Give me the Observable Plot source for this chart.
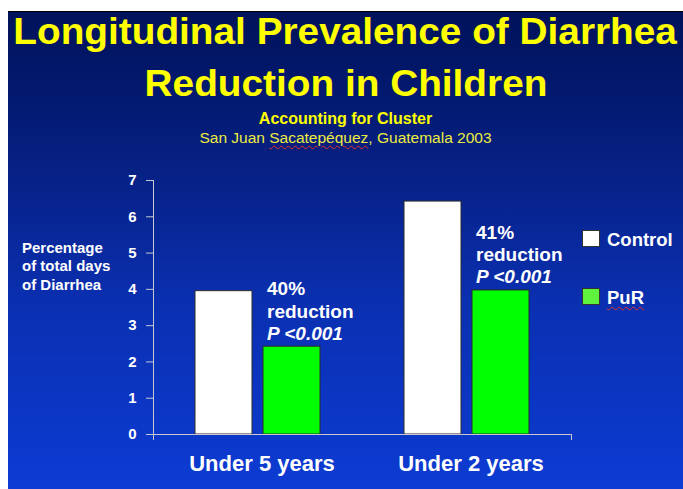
<!DOCTYPE html>
<html>
<head>
<meta charset="utf-8">
<script src="https://cdn.jsdelivr.net/npm/d3@7"></script>
<script src="https://cdn.jsdelivr.net/npm/@observablehq/plot@0.6"></script>
<style>
  html, body { margin: 0; padding: 0; background: #ffffff; }
  #page { position: relative; width: 683px; height: 489px; overflow: hidden; background: #ffffff;
          font-family: "Liberation Sans", Arial, sans-serif; }
  #slide { position: absolute; left: 8px; top: 11px; width: 680px; height: 482px; box-sizing: border-box;
           border-top: 1px solid #000;
           background: linear-gradient(to bottom, #00125a 0%, #061f80 30%, #0a2fb0 60%, #0d3cd4 100%); }
  .t { position: absolute; left: 8px; width: 675px; text-align: center; white-space: nowrap; line-height: 1; }
  .t span { display: inline-block; }
  #t1, #t2 { font-size: 36px; font-weight: bold; color: #ffff00; }
  #t1 span, #t2 span { transform: scaleX(1.077); transform-origin: center; }
  #t1 { top: 14px; }
  #t2 { top: 66px; }
  #s1 { top: 110.5px; font-size: 16px; font-weight: bold; color: #ffff00; }
  #s2 { top: 130px; font-size: 15.5px; color: #ecec40; }
  .squig { text-decoration: underline wavy #e03030; text-decoration-thickness: 1px; text-underline-offset: 2px; }
  #ylab { position: absolute; left: 22px; top: 239px; font-size: 15px; font-weight: bold; color: #ffffff;
          line-height: 18.3px; white-space: nowrap; }
  .lg { position: absolute; left: 582px; height: 17px; }
  .sw { position: absolute; left: 0; top: 0; width: 18px; height: 17px; box-sizing: border-box; border: 1px solid #333; }
  .lt { position: absolute; left: 25px; font-size: 18.5px; font-weight: bold; color: #ffffff; line-height: 1; white-space: nowrap; }
  #chart { position: absolute; left: 0; top: 160px; }
</style>
</head>
<body>
<div id="page">
  <div id="slide"></div>
  <div class="t" id="t1"><span>Longitudinal Prevalence of Diarrhea</span></div>
  <div class="t" id="t2"><span>Reduction in Children</span></div>
  <div class="t" id="s1">Accounting for Cluster</div>
  <div class="t" id="s2">San Juan <span class="squig">Sacatepéquez</span>, Guatemala 2003</div>
  <div id="ylab">Percentage<br>of total days<br>of Diarrhea</div>
  <div id="legend"></div>
  <div id="chart"></div>
</div>
<script>
// ---- data ----
const groups = ["Under 5 years", "Under 2 years"];
const series = ["Control", "PuR"];
const controlValues = [3.95, 6.42];
const purValues = [2.42, 3.97];
const reductionLabels = ["40%", "41%"];
const pLabels = ["P <0.001", "P <0.001"];
const yTicks = [0, 1, 2, 3, 4, 5, 6, 7];

// ---- styles ----
const barColors = ["#ffffff", "#00ff00"];
const legendColors = ["#ffffff", "#5ef23c"];
const axisGray = "#c8c8d0";

const rows = groups.flatMap((g, i) => [
  {group: g, series: series[0], value: controlValues[i]},
  {group: g, series: series[1], value: purValues[i]}
]);
const notes = groups.map((g, i) => ({
  group: g, series: series[1], value: purValues[i], pct: reductionLabels[i], p: pLabels[i]
}));

const W = 600, H = 329, mT = 20, mB = 55;
const chart = Plot.plot({
  width: W,
  height: H,
  marginLeft: 152,
  marginRight: 29,
  marginTop: mT,
  marginBottom: mB,
  style: {background: "transparent", color: "white", fontFamily: "Liberation Sans, Arial, sans-serif", overflow: "visible"},
  fx: {domain: groups, padding: 0, label: null},
  x: {domain: series, paddingInner: 0.16, paddingOuter: 0.607, axis: null},
  y: {domain: [0, 7], label: null},
  color: {domain: series, range: barColors},
  marks: [
    Plot.frame({anchor: "left", facet: "super", stroke: axisGray, insetBottom: -5}),
    Plot.frame({anchor: "right", facet: "super", stroke: axisGray, insetTop: H - mT - mB, insetBottom: -5}),
    Plot.axisY(yTicks, {tickSize: 7, tickPadding: 10, stroke: axisGray, fill: "white",
      fontSize: 15, fontWeight: "bold", label: null}),
    Plot.axisFx({anchor: "bottom", tickSize: 0, tickPadding: 21, fontSize: 22, fontWeight: "bold",
      fill: "white", dx: 4, label: null}),
    Plot.barY(rows, {fx: "group", x: "series", y: "value", fill: "series", stroke: "#2a2a2a", strokeWidth: 1}),
    Plot.ruleY([0], {stroke: axisGray}),
    Plot.text(notes, {fx: "group", x: "series", y: "value", text: d => `${d.pct}\nreduction`,
      textAnchor: "start", lineAnchor: "bottom", lineHeight: 1.18, dx: -25, dy: -29,
      fontSize: 19, fontWeight: "bold", fill: "white"}),
    Plot.text(notes, {fx: "group", x: "series", y: "value", text: "p",
      textAnchor: "start", lineAnchor: "bottom", dx: -25, dy: -7,
      fontSize: 19, fontWeight: "bold", fontStyle: "italic", fill: "white"})
  ]
});
document.getElementById("chart").appendChild(chart);

// ---- legend ----
const legendTops = [230, 288];
const legend = document.getElementById("legend");
series.forEach((s, i) => {
  const item = document.createElement("div");
  item.className = "lg";
  item.style.top = legendTops[i] + "px";
  const sw = document.createElement("div");
  sw.className = "sw";
  sw.style.background = legendColors[i];
  const lt = document.createElement("div");
  lt.className = "lt";
  lt.style.top = "1px";
  if (s === "PuR") { const sp = document.createElement("span"); sp.className = "squig"; sp.textContent = s; lt.appendChild(sp); }
  else lt.textContent = s;
  item.appendChild(sw);
  item.appendChild(lt);
  legend.appendChild(item);
});
</script>
</body>
</html>
